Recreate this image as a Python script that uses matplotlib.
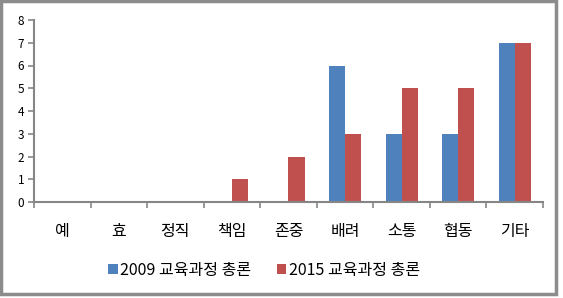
import matplotlib
matplotlib.use("Agg")
import matplotlib.pyplot as plt
import numpy as np
from matplotlib.patches import Rectangle

plt.rcParams['font.family'] = ['Noto Sans CJK KR', 'DejaVu Sans']

categories = ['예', '효', '정직', '책임', '존중', '배려', '소통', '협동', '기타']
series_2009 = [0, 0, 0, 0, 0, 6, 3, 3, 7]
series_2015 = [0, 0, 0, 1, 2, 3, 5, 5, 7]
labels = ['2009 교육과정 총론', '2015 교육과정 총론']
colors = ['#4F81BD', '#C0504D']

fig = plt.figure(figsize=(5.63, 2.98), dpi=100)
ax = fig.add_axes([34/563, 1-202/298, (543-34)/563, (202-20)/298])

x = np.arange(len(categories))
w = 0.283
ax.bar(x - w/2, series_2009, width=w, color=colors[0], label=labels[0])
ax.bar(x + w/2, series_2015, width=w, color=colors[1], label=labels[1])

ax.set_xlim(-0.5, len(categories) - 0.5)
ax.set_ylim(0, 8)
ax.set_yticks(range(0, 9))
ax.set_xticks(x)
ax.set_xticklabels(categories, fontsize=11.5)
ax.set_xticks(np.arange(-0.5, len(categories)), minor=True)
ax.tick_params(axis='x', which='major', length=0, pad=15)
ax.tick_params(axis='x', which='minor', length=4, width=1.2, color='#868686', direction='out')
ax.tick_params(axis='y', length=4, width=1.2, color='#868686', labelsize=8.5, pad=3)

for s in ['top', 'right']:
    ax.spines[s].set_visible(False)
for s in ['left', 'bottom']:
    ax.spines[s].set_color('#868686')
    ax.spines[s].set_linewidth(1.5)

fig.legend(loc='center', bbox_to_anchor=(264/563, 1-270/298), ncol=2, frameon=False,
           fontsize=11.5, handlelength=0.6, handleheight=0.6, handletextpad=0.15,
           columnspacing=1.6)

fig.patches.append(Rectangle((1/563, 4/298), 555/563, 293/298, transform=fig.transFigure,
                             fill=False, edgecolor='#8C8C8C', linewidth=2.5))

fig.savefig('out.png', dpi=100)
